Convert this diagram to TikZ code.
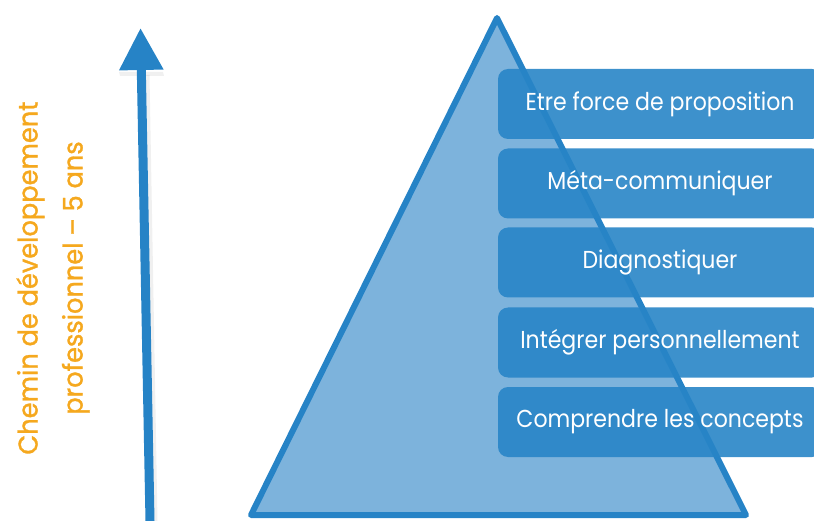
\documentclass[tikz,border=0pt]{standalone}
\usepackage{fontspec}
\setmainfont{Poppins}
\newfontfamily\boxfont[FakeStretch=0.9]{Poppins}
\newfontfamily\capfont[FakeBold=1.2,FakeStretch=0.95]{Poppins}
\usetikzlibrary{arrows.meta}
\definecolor{pblue}{RGB}{38,131,198}
\definecolor{pfill}{RGB}{125,179,220}
\definecolor{bfill}{RGB}{40,133,199}
\definecolor{porange}{RGB}{245,168,30}
\tikzset{
  x=1pt, y=-1pt,
  pyramid/.style={draw=pblue, fill=pfill, line width=6pt, line join=round},
  levelbox/.style={fill=bfill, fill opacity=0.9, text opacity=1, rounded corners=10pt,
    minimum width=324pt, minimum height=70pt, inner sep=0pt,
    text=white, font=\boxfont\fontsize{24.5}{28}\selectfont},
  growth/.style={draw=pblue, line width=9pt, -{Triangle[length=42pt,width=42pt]}},
  caption/.style={text=porange, rotate=90, align=center, font=\capfont\fontsize{27}{45}\selectfont}
}
\begin{document}
\begin{tikzpicture}
\useasboundingbox (0,0) rectangle (814,521);
\clip (0,0) rectangle (814,521);
\coordinate (apex) at (497,18);
\coordinate (bl) at (251,515);
\coordinate (br) at (746,515);
\draw[pyramid] (apex) -- (br) -- (bl) -- cycle;
\node[levelbox] (b1) at (660,104) {Etre force de proposition};
\node[levelbox] (b2) at (660,183.5) {Méta-communiquer};
\node[levelbox] (b3) at (660,262.5) {Diagnostiquer};
\node[levelbox] (b4) at (660,342.5) {Intégrer personnellement};
\node[levelbox] (b5) at (660,422) {Comprendre les concepts};
\coordinate (abot) at (150,521);
\coordinate (atop) at (140.5,28);
\fill[gray, opacity=0.12] (119,72) -- (163,72) -- (164,76) -- (120,76) -- cycle;
\draw[gray, opacity=0.12, line width=9pt] (153,521) -- (145,75);
\draw[growth] (abot) -- (atop);
\node[caption] (cap) at (53,278) {Chemin de développement\\professionnel – 5 ans};
\end{tikzpicture}
\end{document}
